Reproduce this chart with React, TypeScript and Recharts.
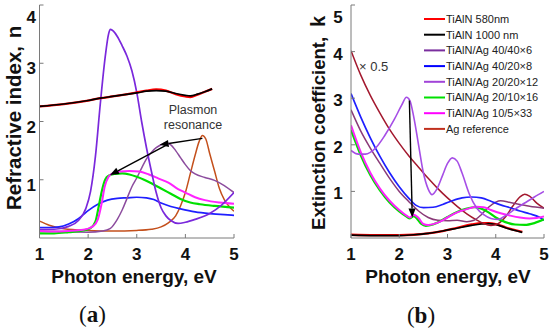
import React from 'react';
import { LineChart, Line, XAxis, YAxis, ReferenceLine } from 'recharts';

type Pt = { e: number; v: number };
const mk = (rows: number[][]): Pt[] => rows.map(([e, v]) => ({ e, v }));

const energyTicks = [1, 2, 3, 4, 5];
const nTicks = [1, 2, 3, 4];
const kTicks = [1, 2, 3, 4, 5];

// ---------- Panel (a): refractive index n ----------
const nTiAlN580 = mk([[1.0,2.26],[1.5,2.3],[2.0,2.36],[2.25,2.4],[2.5,2.43],[2.75,2.46],[3.0,2.5],[3.2,2.53],[3.4,2.55],[3.6,2.53],[3.8,2.47],[4.0,2.43],[4.1,2.42],[4.25,2.46],[4.4,2.51],[4.55,2.56]]);
const nTiAlN1000 = mk([[1.0,2.26],[1.5,2.3],[2.0,2.36],[2.25,2.4],[2.5,2.43],[2.75,2.46],[3.0,2.49],[3.2,2.52],[3.4,2.53],[3.6,2.52],[3.8,2.48],[4.0,2.45],[4.1,2.44],[4.25,2.47],[4.4,2.51],[4.55,2.56]]);
const nAg40_40 = mk([[1.0,0.12],[1.5,0.11],[2.0,0.1],[2.3,0.12],[2.45,0.16],[2.6,0.32],[2.7,0.48],[2.8,0.68],[2.9,0.88],[3.0,1.03],[3.1,1.2],[3.2,1.36],[3.3,1.47],[3.4,1.55],[3.5,1.6],[3.6,1.63],[3.7,1.6],[3.8,1.5],[3.9,1.38],[4.0,1.26],[4.1,1.16],[4.2,1.1],[4.4,1.04],[4.6,0.99],[4.8,0.9],[5.0,0.78]]);
const nAg40_20 = mk([[1.0,0.18],[1.2,0.18],[1.4,0.19],[1.6,0.24],[1.8,0.33],[1.9,0.4],[2.0,0.47],[2.2,0.58],[2.4,0.65],[2.6,0.68],[2.8,0.69],[3.0,0.7],[3.2,0.69],[3.35,0.66],[3.5,0.6],[3.7,0.54],[3.9,0.5],[4.2,0.45],[4.5,0.42],[4.8,0.4],[5.0,0.39]]);
const nAg20_20 = mk([[1.0,0.15],[1.3,0.15],[1.6,0.2],[1.8,0.3],[1.95,0.5],[2.05,0.8],[2.15,1.4],[2.25,2.3],[2.35,3.1],[2.42,3.5],[2.46,3.58],[2.52,3.55],[2.6,3.46],[2.7,3.3],[2.8,3.12],[2.9,2.87],[3.0,2.5],[3.1,2.0],[3.2,1.55],[3.3,1.15],[3.4,0.78],[3.5,0.52],[3.6,0.38],[3.7,0.3],[3.85,0.25],[4.0,0.27],[4.2,0.32],[4.5,0.42],[4.75,0.57],[5.0,0.78]]);
const nAg20_10 = mk([[1.0,0.08],[1.3,0.08],[1.6,0.1],[1.9,0.13],[2.05,0.17],[2.15,0.28],[2.22,0.55],[2.28,0.8],[2.35,1.0],[2.42,1.07],[2.55,1.1],[2.7,1.11],[2.85,1.09],[3.0,1.05],[3.15,1.0],[3.3,0.94],[3.5,0.85],[3.7,0.76],[3.9,0.67],[4.1,0.61],[4.3,0.58],[4.6,0.55],[5.0,0.52]]);
const nAg10_5 = mk([[1.0,0.12],[1.3,0.11],[1.6,0.12],[1.9,0.14],[2.1,0.2],[2.2,0.32],[2.28,0.6],[2.34,0.88],[2.42,1.05],[2.5,1.11],[2.65,1.14],[2.85,1.15],[3.05,1.14],[3.25,1.09],[3.45,1.02],[3.65,0.95],[3.85,0.84],[4.0,0.78],[4.2,0.7],[4.4,0.65],[4.7,0.61],[5.0,0.59]]);
const nAgRef = mk([[1.0,0.29],[1.2,0.22],[1.5,0.16],[2.0,0.13],[2.5,0.12],[3.0,0.13],[3.3,0.15],[3.5,0.19],[3.65,0.26],[3.8,0.38],[3.9,0.55],[4.0,0.78],[4.1,1.1],[4.2,1.42],[4.28,1.65],[4.35,1.76],[4.42,1.7],[4.5,1.45],[4.6,1.15],[4.7,0.85],[4.8,0.66],[4.9,0.54],[5.0,0.46]]);

// ---------- Panel (b): extinction coefficient k ----------
const kTiAlN580 = mk([[1.0,0.07],[1.5,0.06],[2.0,0.06],[2.3,0.07],[2.6,0.1],[2.9,0.15],[3.2,0.22],[3.5,0.29],[3.7,0.32],[3.85,0.32],[4.0,0.3],[4.2,0.23],[4.4,0.17],[4.55,0.13]]);
const kTiAlN1000 = mk([[1.0,0.06],[1.5,0.05],[2.0,0.05],[2.3,0.07],[2.6,0.1],[2.9,0.15],[3.2,0.21],[3.5,0.27],[3.7,0.3],[3.85,0.31],[4.0,0.29],[4.2,0.22],[4.4,0.16],[4.55,0.12]]);
const kAg40_40 = mk([[1.0,2.75],[1.2,2.3],[1.4,1.93],[1.6,1.6],[1.8,1.28],[2.0,1.0],[2.2,0.78],[2.4,0.58],[2.6,0.44],[2.8,0.38],[3.0,0.37],[3.2,0.38],[3.4,0.35],[3.55,0.38],[3.7,0.5],[3.85,0.66],[4.0,0.77],[4.1,0.8],[4.3,0.76],[4.5,0.72],[4.7,0.68],[5.0,0.64]]);
const kAg40_20 = mk([[1.0,3.1],[1.2,2.6],[1.4,2.15],[1.6,1.75],[1.8,1.4],[2.0,1.1],[2.2,0.85],[2.35,0.7],[2.5,0.65],[2.7,0.66],[2.9,0.72],[3.1,0.8],[3.3,0.86],[3.5,0.88],[3.7,0.86],[3.9,0.79],[4.1,0.71],[4.3,0.65],[4.5,0.58],[4.7,0.52],[4.9,0.45],[5.0,0.38]]);
const kAg20_20 = mk([[1.0,1.88],[1.15,1.8],[1.3,1.8],[1.5,1.92],[1.7,2.2],[1.9,2.55],[2.05,2.85],[2.15,3.02],[2.22,2.95],[2.3,2.6],[2.4,2.0],[2.5,1.4],[2.6,1.05],[2.68,0.93],[2.78,1.05],[2.9,1.35],[3.0,1.6],[3.1,1.72],[3.2,1.65],[3.3,1.4],[3.45,0.95],[3.6,0.65],[3.75,0.5],[3.9,0.42],[4.05,0.4],[4.2,0.48],[4.4,0.62],[4.6,0.75],[4.8,0.88],[5.0,1.0]]);
const kAg20_10 = mk([[1.0,2.32],[1.2,1.78],[1.4,1.35],[1.6,1.02],[1.8,0.76],[2.0,0.57],[2.15,0.46],[2.22,0.42],[2.3,0.47],[2.38,0.4],[2.46,0.3],[2.55,0.26],[2.7,0.29],[2.85,0.36],[3.0,0.45],[3.2,0.56],[3.4,0.63],[3.55,0.66],[3.7,0.63],[3.85,0.55],[4.0,0.44],[4.2,0.34],[4.4,0.29],[4.6,0.28],[4.8,0.32],[5.0,0.4]]);
const kAg10_5 = mk([[1.0,2.42],[1.2,1.85],[1.4,1.4],[1.6,1.06],[1.8,0.8],[2.0,0.6],[2.15,0.48],[2.22,0.44],[2.3,0.5],[2.4,0.43],[2.5,0.3],[2.6,0.28],[2.8,0.33],[3.0,0.44],[3.2,0.55],[3.4,0.62],[3.6,0.67],[3.75,0.66],[3.9,0.6],[4.1,0.53],[4.3,0.48],[4.5,0.44],[4.7,0.42],[4.85,0.43],[5.0,0.46]]);
const kAgRefHalf = mk([[1.0,4.02],[1.2,3.5],[1.4,3.06],[1.6,2.68],[1.8,2.33],[2.0,2.03],[2.2,1.76],[2.4,1.52],[2.6,1.28],[2.8,1.06],[3.0,0.86],[3.2,0.68],[3.4,0.52],[3.6,0.39],[3.75,0.31],[3.9,0.27],[4.05,0.31],[4.2,0.45],[4.35,0.68],[4.5,0.88],[4.6,0.94],[4.7,0.9],[4.85,0.75],[5.0,0.64]]);

const legendNames = ['TiAlN 580nm', 'TiAlN 1000 nm', 'TiAlN/Ag 40/40×6', 'TiAlN/Ag 40/20×8', 'TiAlN/Ag 20/20×12', 'TiAlN/Ag 20/10×16', 'TiAlN/Ag 10/5×33', 'Ag reference'];
const legendColors = ['#ff0000', '#000000', '#7a2e9e', '#0000ff', '#a144d8', '#00e000', '#ff00ff', '#c0301e'];

const AX = '#7a7a7a';
const SANS = 'Liberation Sans, Arial, Helvetica, sans-serif';

const XTick = (p: any) => (
  <text x={p.x} y={p.y} dy="0.71em" textAnchor="middle" fontSize={17} fontWeight="bold" fill="#111" fontFamily={SANS}>
    {p.payload.value}
  </text>
);
const makeYTick = (top: number, shift: number) => (p: any) => (
  <text x={p.x} y={p.y + (p.payload.value === top ? 8 : shift)} dy="0.355em" textAnchor="end" fontSize={17} fontWeight="bold" fill="#111" fontFamily={SANS}>
    {p.payload.value}
  </text>
);

const arrowShape = (p: any) => {
  const { x1, y1, x2, y2 } = p;
  const dx = x2 - x1, dy = y2 - y1;
  const L = Math.sqrt(dx * dx + dy * dy) || 1;
  const ux = dx / L, uy = dy / L;
  const hl = 9, hw = 3.6;
  const bx = x2 - ux * hl, by = y2 - uy * hl;
  const pts = `${x2},${y2} ${bx - uy * hw},${by + ux * hw} ${bx + uy * hw},${by - ux * hw}`;
  return (
    <g>
      <line x1={x1} y1={y1} x2={bx} y2={by} stroke="#000" strokeWidth={1.4} />
      <polygon points={pts} fill="#000" />
    </g>
  );
};

const line = (data: Pt[], color: string, w = 1.6, key?: string) => (
  <Line key={key} data={data} dataKey="v" xAxisId="b" yAxisId="l" type="monotone" stroke={color} strokeWidth={w} dot={false} activeDot={false} isAnimationActive={false} />
);

const ChartA = () => (
  <LineChart width={275} height={331} margin={{ top: 5, right: 41, bottom: 0, left: 0 }} style={{ position: 'absolute', left: 0, top: 0 }}>
    <XAxis xAxisId="b" dataKey="e" type="number" domain={[1, 5]} ticks={energyTicks} height={93} tickSize={-4} tickMargin={14} tick={XTick} stroke={AX} allowDataOverflow />
    <XAxis xAxisId="t" orientation="top" dataKey="e" type="number" domain={[1, 5]} ticks={energyTicks} height={0} tickSize={-4} tick={false} stroke={AX} />
    <YAxis yAxisId="l" type="number" domain={[0, 4]} ticks={nTicks} width={39.5} tickSize={-4} tickMargin={7.5} tick={makeYTick(4, 5)} stroke={AX} allowDataOverflow />
    <YAxis yAxisId="r" orientation="right" type="number" domain={[0, 4]} ticks={nTicks} width={0} tickSize={-4} tick={false} stroke={AX} />
    {line(nAgRef, '#c4501c', 1.5, 'ar')}
    {line(nAg40_20, '#1f1fff', 1.7, 'b')}
    {line(nAg40_40, '#8c4c9e', 1.5, 'dp')}
    {line(nAg20_10, '#00e000', 2.2, 'g')}
    {line(nAg10_5, '#ff22ff', 2.0, 'm')}
    {line(nAg20_20, '#7a28dc', 1.7, 'v')}
    {line(nTiAlN580, '#ff0000', 2.3, 'r')}
    {line(nTiAlN1000, '#000000', 1.7, 'k')}
    <ReferenceLine xAxisId="b" yAxisId="l" segment={[{ x: 4.35, y: 1.71 }, { x: 3.47, y: 1.6 }]} shape={arrowShape} />
    <ReferenceLine xAxisId="b" yAxisId="l" segment={[{ x: 3.62, y: 1.6 }, { x: 2.45, y: 1.08 }]} shape={arrowShape} />
  </LineChart>
);

const ChartB = () => (
  <LineChart width={275} height={331} margin={{ top: 5, right: 6, bottom: 0, left: 0 }} style={{ position: 'absolute', left: 275, top: 0 }}>
    <XAxis xAxisId="b" dataKey="e" type="number" domain={[1, 5]} ticks={energyTicks} height={93} tickSize={-4} tickMargin={14} tick={XTick} stroke={AX} allowDataOverflow />
    <XAxis xAxisId="t" orientation="top" dataKey="e" type="number" domain={[1, 5]} ticks={energyTicks} height={0} tickSize={-4} tick={false} stroke={AX} />
    <YAxis yAxisId="l" type="number" domain={[0, 5]} ticks={kTicks} width={76} tickSize={-4} tickMargin={12.3} tick={makeYTick(5, 2)} stroke={AX} allowDataOverflow />
    <YAxis yAxisId="r" orientation="right" type="number" domain={[0, 5]} ticks={kTicks} width={0} tickSize={-4} tick={false} stroke={AX} />
    {line(kTiAlN580, '#ff0000', 2.3, 'r')}
    {line(kTiAlN1000, '#000000', 1.7, 'k')}
    {line(kAgRefHalf, '#a3182e', 1.5, 'ar')}
    {line(kAg40_40, '#8a3a78', 1.5, 'dp')}
    {line(kAg40_20, '#1f1fff', 1.7, 'b')}
    {line(kAg20_10, '#00e000', 2.2, 'g')}
    {line(kAg10_5, '#ff22ff', 2.0, 'm')}
    {line(kAg20_20, '#a64ee6', 1.6, 'v')}
    <ReferenceLine xAxisId="b" yAxisId="l" segment={[{ x: 2.21, y: 2.95 }, { x: 2.27, y: 0.44 }]} shape={arrowShape} />
  </LineChart>
);

const Overlay = () => (
  <svg width={550} height={331} style={{ position: 'absolute', left: 0, top: 0, pointerEvents: 'none' }} fontFamily={SANS}>
    {/* axis titles */}
    <text x={134} y={282.5} fontSize={19} fontWeight="bold" fill="#111" textAnchor="middle">Photon energy, eV</text>
    <text x={448} y={282.5} fontSize={19} fontWeight="bold" fill="#111" textAnchor="middle">Photon energy, eV</text>
    <text transform="translate(21,210) rotate(-90)" fontSize={20.5} fontWeight="bold" fill="#111">Refractive index,</text>
    <text transform="translate(21,32) rotate(-90)" fontSize={20.5} fontWeight="bold" fill="#111" textAnchor="middle">n</text>
    <text transform="translate(325,230) rotate(-90)" fontSize={18.6} fontWeight="bold" fill="#111">Extinction coefficient,</text>
    <text transform="translate(325,21.5) rotate(-90)" fontSize={20} fontWeight="bold" fill="#111" textAnchor="middle">k</text>
    {/* panel labels */}
    <text x={92.5} y={322} fontSize={23} textAnchor="middle" fill="#111" fontFamily="Liberation Serif, Times New Roman, serif">(<tspan fontWeight="bold">a</tspan>)</text>
    <text x={421} y={323} fontSize={23} textAnchor="middle" fill="#111" fontFamily="Liberation Serif, Times New Roman, serif">(<tspan fontWeight="bold">b</tspan>)</text>
    {/* annotations */}
    <text x={193} y={113.5} fontSize={12.5} textAnchor="middle" fill="#333">Plasmon</text>
    <text x={193} y={129} fontSize={12.5} textAnchor="middle" fill="#333">resonance</text>
    <text x={359} y={70.5} fontSize={13} fill="#333">× 0.5</text>
    {/* legend */}
    {legendNames.map((name, i) => {
      const y = 19 + i * 15.7;
      return (
        <g key={name}>
          <line x1={424} x2={445} y1={y} y2={y} stroke={legendColors[i]} strokeWidth={2} />
          <text x={446} y={y} dy="0.36em" fontSize={11} fill="#222">{name}</text>
        </g>
      );
    })}
  </svg>
);

export default function App() {
  return (
    <div style={{ position: 'absolute', left: 0, top: 0, width: 550, height: 331, background: '#fff', overflow: 'hidden' }}>
      <ChartA />
      <ChartB />
      <Overlay />
    </div>
  );
}
